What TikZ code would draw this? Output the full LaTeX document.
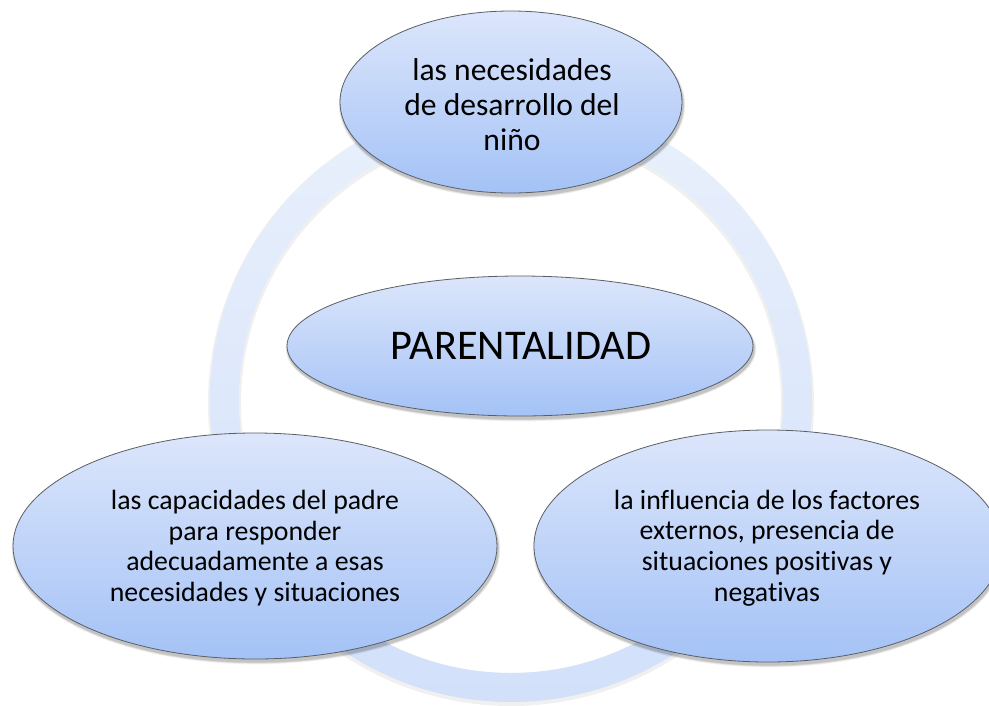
\documentclass[tikz,border=0pt]{standalone}
\usepackage{fontspec}
\setmainfont{Carlito}[Ligatures={NoCommon}]
\usetikzlibrary{shapes.geometric}
\definecolor{elltop}{HTML}{DCE6FB}
\definecolor{ellbot}{HTML}{A4C2F6}
\definecolor{ringtop}{HTML}{E9F0FC}
\definecolor{ringbot}{HTML}{D2E0FA}
\definecolor{ellborder}{HTML}{5A5F66}
\tikzset{
  bubble/.style={ellipse, draw=ellborder, line width=0.8pt, inner sep=0pt,
    top color=elltop, bottom color=ellbot},
  bubbletext/.style={align=center, inner sep=0pt, text=black},
}
\newcommand{\bubbleshadow}[4]{%
  \foreach \k/\o in {6/0.04,4.5/0.05,3/0.07,1.5/0.09}{
    \fill[black, opacity=\o] (#1+1,#2+3) ellipse [x radius=#3+\k*0.4, y radius=#4+\k*0.4];
  }%
}
\begin{document}
\begin{tikzpicture}[x=1pt,y=-1pt]
\useasboundingbox (0,0) rectangle (989,705);
\fill[white] (0,0) rectangle (989,705);
% ring shadow
\fill[black, opacity=0.06, even odd rule] (511,403) circle [radius=303] (511,403) circle [radius=270];
% ring
\shade[top color=ringtop, bottom color=ringbot, even odd rule]
  (511,401) circle [radius=301] (511,401) circle [radius=272];
\coordinate (ringc) at (511,401);
% shadows
\bubbleshadow{511}{102}{171}{91}
\bubbleshadow{520}{346}{233}{70}
\bubbleshadow{255}{546}{242}{113}
\bubbleshadow{768}{546}{234}{116}
% ellipses
\node[bubble, minimum width=342pt, minimum height=182pt] (top) at (511,102) {};
\node[bubble, minimum width=466pt, minimum height=140pt] (center) at (520,346) {};
\node[bubble, minimum width=484pt, minimum height=226pt] (left) at (255,546) {};
\node[bubble, minimum width=468pt, minimum height=232pt] (right) at (768,546) {};
% texts
\node[bubbletext, font=\fontsize{31.6}{35}\selectfont] (toptext) at (512,105)
  {las necesidades\\de desarrollo del\\niño};
\node[bubbletext, font=\fontsize{42.3}{50}\selectfont] (centertext) at (521,346)
  {PARENTALIDAD};
\node[bubbletext, font=\fontsize{27.8}{30.6}\selectfont] (lefttext) at (255,548)
  {las capacidades del padre\\para responder\\adecuadamente a esas\\necesidades y situaciones};
\node[bubbletext, font=\fontsize{27.8}{30.6}\selectfont] (righttext) at (767,548)
  {la influencia de los factores\\externos, presencia de\\situaciones positivas y\\negativas};
\end{tikzpicture}
\end{document}
